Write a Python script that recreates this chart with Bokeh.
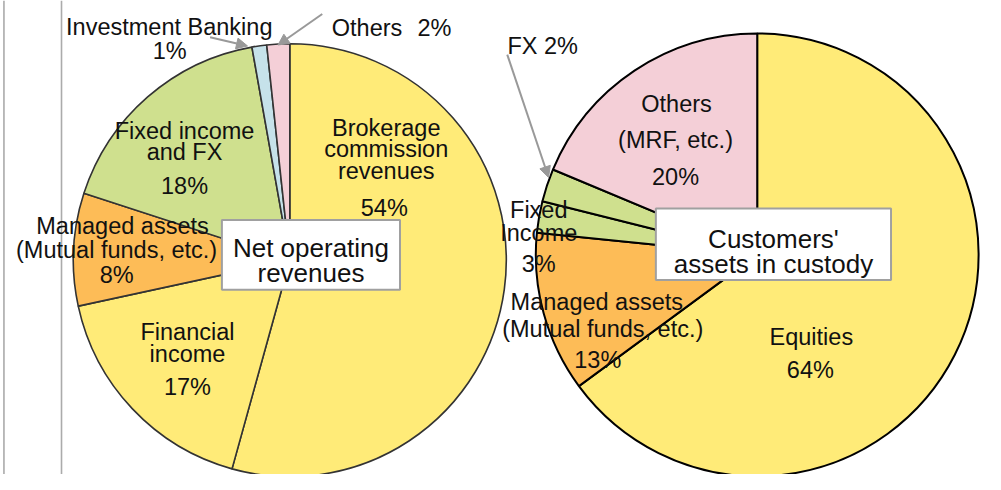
from bokeh.plotting import figure
from bokeh.models import Range1d, Arrow, NormalHead, ColumnDataSource
from bokeh.core.properties import value
from bokeh.embed import file_html
from bokeh.resources import INLINE
import numpy as np

# ---------------- data ----------------
left_categories = ["Brokerage commission revenues", "Financial income",
                   "Managed assets (Mutual funds, etc.)", "Fixed income and FX",
                   "Investment Banking", "Others"]
left_values = [54.3, 17.3, 8.4, 17.2, 1.1, 1.7]
left_colors = ["#FFEB78", "#FFEB78", "#FDBC57", "#CFE08E", "#C6E2EA", "#F4CFD7"]

right_categories = ["Equities", "Managed assets (Mutual funds, etc.)",
                    "Fixed Income", "FX", "Others (MRF, etc.)"]
right_values = [64.9, 11.7, 2.3, 2.4, 18.7]
right_colors = ["#FFEB78", "#FDBC57", "#CFE08E", "#CFE08E", "#F4CFD7"]

W, H = 985, 474
def Y(sy):
    return 490 - sy

p = figure(width=W, height=H, output_backend="svg", toolbar_location=None,
           x_range=Range1d(0, 1001), y_range=Range1d(0, 490),
           min_border=0, outline_line_color=None)
p.axis.visible = False
p.grid.visible = False
p.background_fill_color = "white"
p.border_fill_color = "white"

# vertical rules at the left
p.segment(x0=[3.5, 62], y0=[Y(0), Y(0)], x1=[3.5, 62], y1=[Y(490), Y(490)],
          line_color="#ababab", line_width=1.6)

def pie(vals, colors, cx, cy, r, lc, lw):
    v = np.array(vals, dtype=float)
    frac = v / v.sum()
    cum = np.concatenate([[0], np.cumsum(frac)])
    start = 90 - 360 * cum[1:]
    end = 90 - 360 * cum[:-1]
    src = ColumnDataSource(dict(start=start, end=end, color=colors))
    p.wedge(x=cx, y=cy, radius=r, start_angle="start", end_angle="end",
            start_angle_units="deg", end_angle_units="deg",
            fill_color="color", line_color=lc, line_width=lw, source=src)

pie(left_values, left_colors, 294, Y(268.5), 220, "#333333", 1.6)
pie(right_values, right_colors, 769, Y(263), 225, "#000000", 2)

FONT = value("Liberation Sans")

def txt(x, sy, t, size="23.5px"):
    p.text(x=[x], y=[Y(sy)], text=[t], text_align="center", text_baseline="alphabetic",
           text_font=FONT, text_font_size=size, text_color="#111111")

# label boxes
p.quad(left=[225], right=[406], top=[Y(227)], bottom=[Y(299)],
       fill_color="white", line_color="#a0a0a0", line_width=2)
p.quad(left=[666], right=[905], top=[Y(215)], bottom=[Y(289)],
       fill_color="white", line_color="#a0a0a0", line_width=2)

# left pie labels
txt(171.5, 27, "Investment Banking")
txt(172, 52, "1%")
txt(372.5, 28, "Others")
txt(441, 28, "2%")
txt(392, 132, "Brokerage")
txt(392, 154, "commission")
txt(392, 176, "revenues")
txt(390, 215, "54%")
txt(187, 135, "Fixed income")
txt(187, 157, "and FX")
txt(187, 192, "18%")
txt(124, 233, "Managed assets")
txt(118, 258, "(Mutual funds, etc.)")
txt(118, 284, "8%")
txt(190, 343, "Financial")
txt(190, 365, "income")
txt(190, 400, "17%")
txt(315.5, 256, "Net operating", "26px")
txt(315.5, 282, "revenues", "26px")

# right pie labels
txt(551, 47, "FX 2%")
txt(687, 107, "Others")
txt(686, 144, "(MRF, etc.)")
txt(686, 182, "20%")
txt(547, 217, "Fixed")
txt(547, 240, "Income")
txt(547, 272, "3%")
txt(606, 312, "Managed assets")
txt(612, 340, "(Mutual funds, etc.)")
txt(607, 372, "13%")
txt(824, 348, "Equities")
txt(823, 382, "64%")
txt(785.5, 247, "Customers'", "26px")
txt(785.5, 272, "assets in custody", "26px")

# arrows
for (xs, ys, xe, ye) in [(213, 38, 251, 47), (327, 14, 282, 46), (515, 56, 557, 183)]:
    p.add_layout(Arrow(end=NormalHead(size=11, fill_color="#999999", line_color="#999999"),
                       x_start=xs, y_start=Y(ys), x_end=xe, y_end=Y(ye),
                       line_color="#999999", line_width=2))

open("out.html", "w").write(file_html(p, INLINE))
